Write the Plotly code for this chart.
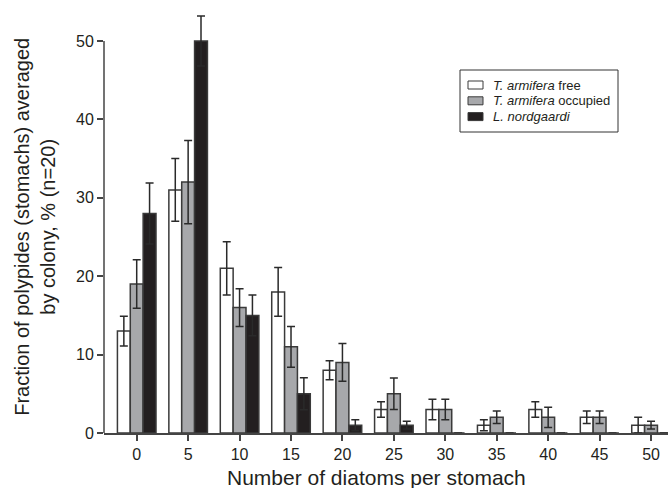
import plotly.graph_objects as go

categories = [0, 5, 10, 15, 20, 25, 30, 35, 40, 45, 50]
free_vals = [13, 31, 21, 18, 8, 3, 3, 1, 3, 2, 1]
free_err = [1.9, 4.0, 3.4, 3.1, 1.2, 1.0, 1.3, 0.7, 1.0, 0.8, 1.0]
occ_vals = [19, 32, 16, 11, 9, 5, 3, 2, 2, 2, 1]
occ_err = [3.1, 5.3, 2.4, 2.6, 2.4, 2.0, 1.3, 0.8, 1.3, 0.8, 0.5]
nord_vals = [28, 50, 15, 5, 1, 1, 0, 0, 0, 0, 0]
nord_err = [3.9, 3.2, 2.6, 2.05, 0.7, 0.5, 0, 0, 0, 0, 0]
series_names = ["<i>T. armifera</i> free", "<i>T. armifera</i> occupied", "<i>L. nordgaardi</i>"]
y_ticks = [0, 10, 20, 30, 40, 50]

colors = ["#ffffff", "#a7a8ab", "#231f20"]
edge = "#3a3a3a"
font_family = "Liberation Sans, Arial, Helvetica, sans-serif"

W, H = 668, 488
ML, MR, MT, MB = 104, 0, 0, 55
PW, PH = W - ML - MR, H - MT - MB


def px_x(p):
    return (p - ML) / PW


def px_y(p):
    return 1 - (p - MT) / PH


fig = go.Figure()
for name, vals, errs, col in zip(series_names, [free_vals, occ_vals, nord_vals],
                                  [free_err, occ_err, nord_err], colors):
    fig.add_trace(go.Bar(
        x=categories, y=vals, name=name, showlegend=False,
        marker=dict(color=col, line=dict(color=edge, width=1.5)),
        error_y=dict(type="data", array=errs, visible=True,
                     color="#2a2a2a", thickness=1.5, width=4),
    ))

shapes = [dict(type="line", xref="paper", x0=0, x1=0, yref="y", y0=0, y1=50,
               line=dict(color="#444444", width=1.5))]
annotations = [
    dict(text="Number of diatoms per stomach", xref="x", x=23.3,
         yref="paper", y=0, yanchor="middle", yshift=-44, showarrow=False,
         font=dict(size=21, family=font_family)),
    dict(text="Fraction of polypides (stomachs) averaged<br>by colony, % (n=20)",
         xref="paper", x=0, xanchor="center", xshift=-69,
         yref="y", y=26.3, yanchor="middle", textangle=-90, showarrow=False,
         font=dict(size=20, family=font_family)),
]

# legend box (manual, to match the compact reference legend)
shapes.append(dict(type="rect", xref="paper", yref="paper",
                   x0=px_x(460), x1=px_x(618), y0=px_y(132), y1=px_y(70),
                   line=dict(color="#333333", width=1), fillcolor="white", layer="above"))
row_y = [85, 100.8, 116.6]
for name, col, ry in zip(series_names, colors, row_y):
    shapes.append(dict(type="rect", xref="paper", yref="paper",
                       x0=px_x(468), x1=px_x(483), y0=px_y(ry + 4), y1=px_y(ry - 4),
                       line=dict(color=edge, width=1), fillcolor=col, layer="above"))
    annotations.append(dict(text=name, xref="paper", yref="paper",
                            x=px_x(491), y=px_y(ry), xanchor="left", yanchor="middle",
                            showarrow=False, font=dict(size=13, family=font_family)))

fig.update_layout(
    width=W, height=H,
    margin=dict(l=ML, r=MR, t=MT, b=MB),
    paper_bgcolor="white", plot_bgcolor="white",
    barmode="group", bargap=0.25, bargroupgap=0,
    font=dict(family=font_family, color="#231f20", size=16),
    showlegend=False,
    xaxis=dict(range=[-3.18, 51.65], tickmode="array", tickvals=categories,
               ticktext=[str(c) for c in categories],
               ticks="outside", ticklen=6, tickwidth=1.5, tickcolor="#444444",
               showline=True, linecolor="#444444", linewidth=1.5,
               showgrid=False, zeroline=False,
               tickfont=dict(size=16)),
    yaxis=dict(range=[0, 55.23], tickmode="array", tickvals=y_ticks,
               ticks="outside", ticklen=6, tickwidth=1.5, tickcolor="#444444",
               showline=False, showgrid=False, zeroline=False,
               tickfont=dict(size=16)),
    shapes=shapes,
    annotations=annotations,
)

fig.write_html("out.html")
